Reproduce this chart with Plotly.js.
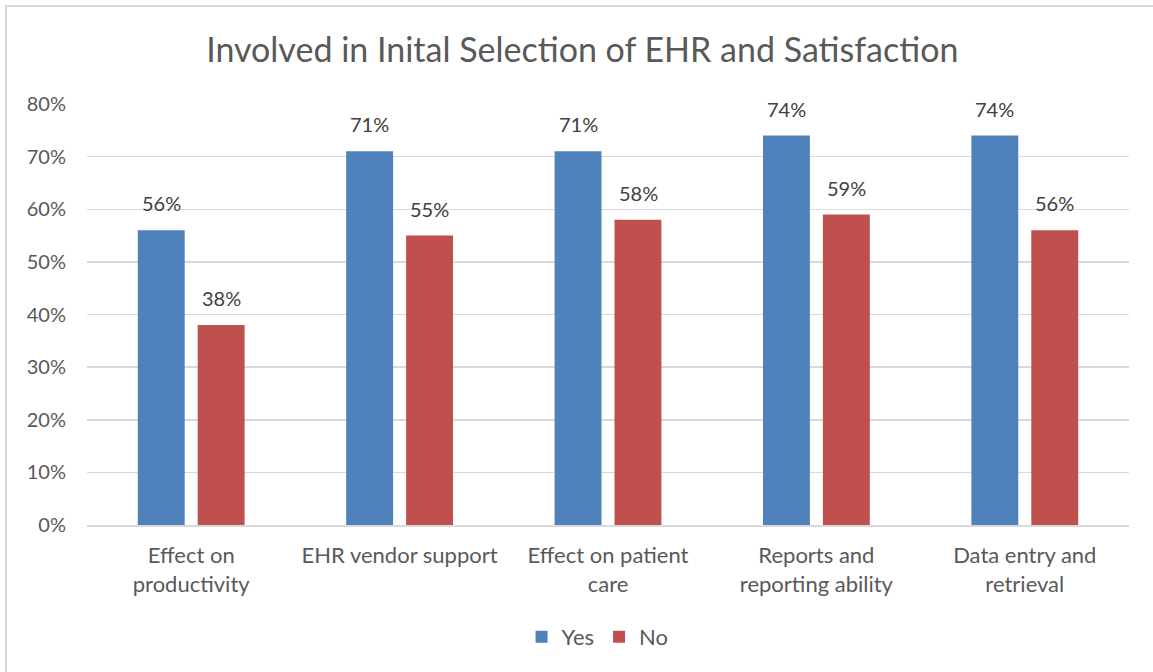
<!DOCTYPE html>
<html>
<head>
<meta charset="utf-8">
<script src="https://cdn.plot.ly/plotly-3.0.1.min.js"></script>
<style>
html,body{margin:0;padding:0;background:#fff;}
#chart{width:1153px;height:672px;position:relative;}
#frame{position:absolute;left:5px;top:5px;width:1160px;height:680px;border-top:2px solid #D9D9D9;border-left:2px solid #D9D9D9;pointer-events:none;}
</style>
</head>
<body>
<div id="chart"></div>
<div id="frame"></div>
<script>
const categories = ["Effect on<br>productivity", "EHR vendor support", "Effect on patient<br>care", "Reports and<br>reporting ability", "Data entry and<br>retrieval"];
const yesValues = [0.56, 0.71, 0.71, 0.74, 0.74];
const noValues = [0.38, 0.55, 0.58, 0.59, 0.56];
const seriesNames = ["Yes", "No"];
const yTicks = [0, 0.1, 0.2, 0.3, 0.4, 0.5, 0.6, 0.7, 0.8];
const titleText = "Involved in Inital Selection of EHR and Satisfaction";

const FONT = "Lato, 'Open Sans', 'Noto Sans', sans-serif";
const labelFont = {family: FONT, size: 20, color: "#404040"};

const traces = [
  {type: "bar", name: seriesNames[0], x: categories, y: yesValues,
   marker: {color: "#4F81BD"}, hoverinfo: "none"},
  {type: "bar", name: seriesNames[1], x: categories, y: noValues,
   marker: {color: "#C0504D"}, hoverinfo: "none"}
];

const slotShift = 30;
const annotations = [];
[yesValues, noValues].forEach((vals, si) => {
  vals.forEach((v, i) => {
    annotations.push({x: categories[i], y: v, xref: "x", yref: "y",
      text: Math.round(v*100) + "%", showarrow: false,
      xshift: si === 0 ? -slotShift : slotShift, yshift: 27,
      yanchor: "middle", xanchor: "center", font: labelFont});
  });
});

const layout = {
  width: 1153, height: 672,
  paper_bgcolor: "#fff", plot_bgcolor: "#fff",
  margin: {l: 87, r: 24, t: 104, b: 147, autoexpand: false},
  title: {text: titleText, x: 0.505, xanchor: "center", y: 0.925, yanchor: "middle",
          font: {family: FONT, size: 34, color: "#595959"}},
  barmode: "group", bargap: 0.425, bargroupgap: 0.217,
  font: {family: FONT, color: "#595959"},
  annotations: annotations,
  xaxis: {tickfont: {family: FONT, size: 22, color: "#595959"}, showline: true,
          linecolor: "#D9D9D9", linewidth: 1.5, ticks: "", showgrid: false, fixedrange: true,
          ticklabelstandoff: 10, automargin: false},
  yaxis: {range: [0, 0.8], tickvals: yTicks, tickformat: ".0%",
          tickfont: {family: FONT, size: 20, color: "#595959"},
          showgrid: true, gridcolor: "#D9D9D9", gridwidth: 1.5, zeroline: false,
          showline: false, ticks: "", ticklen: 0, fixedrange: true, ticklabelstandoff: 20,
          automargin: false},
  showlegend: true,
  legend: {orientation: "h", x: 0.49, xanchor: "center", yref: "container", y: 0.052, yanchor: "middle",
           font: {family: FONT, size: 22, color: "#595959"}, itemwidth: 30, traceorder: "normal"}
};

Plotly.newPlot("chart", traces, layout, {displayModeBar: false, staticPlot: true});
</script>
</body>
</html>
